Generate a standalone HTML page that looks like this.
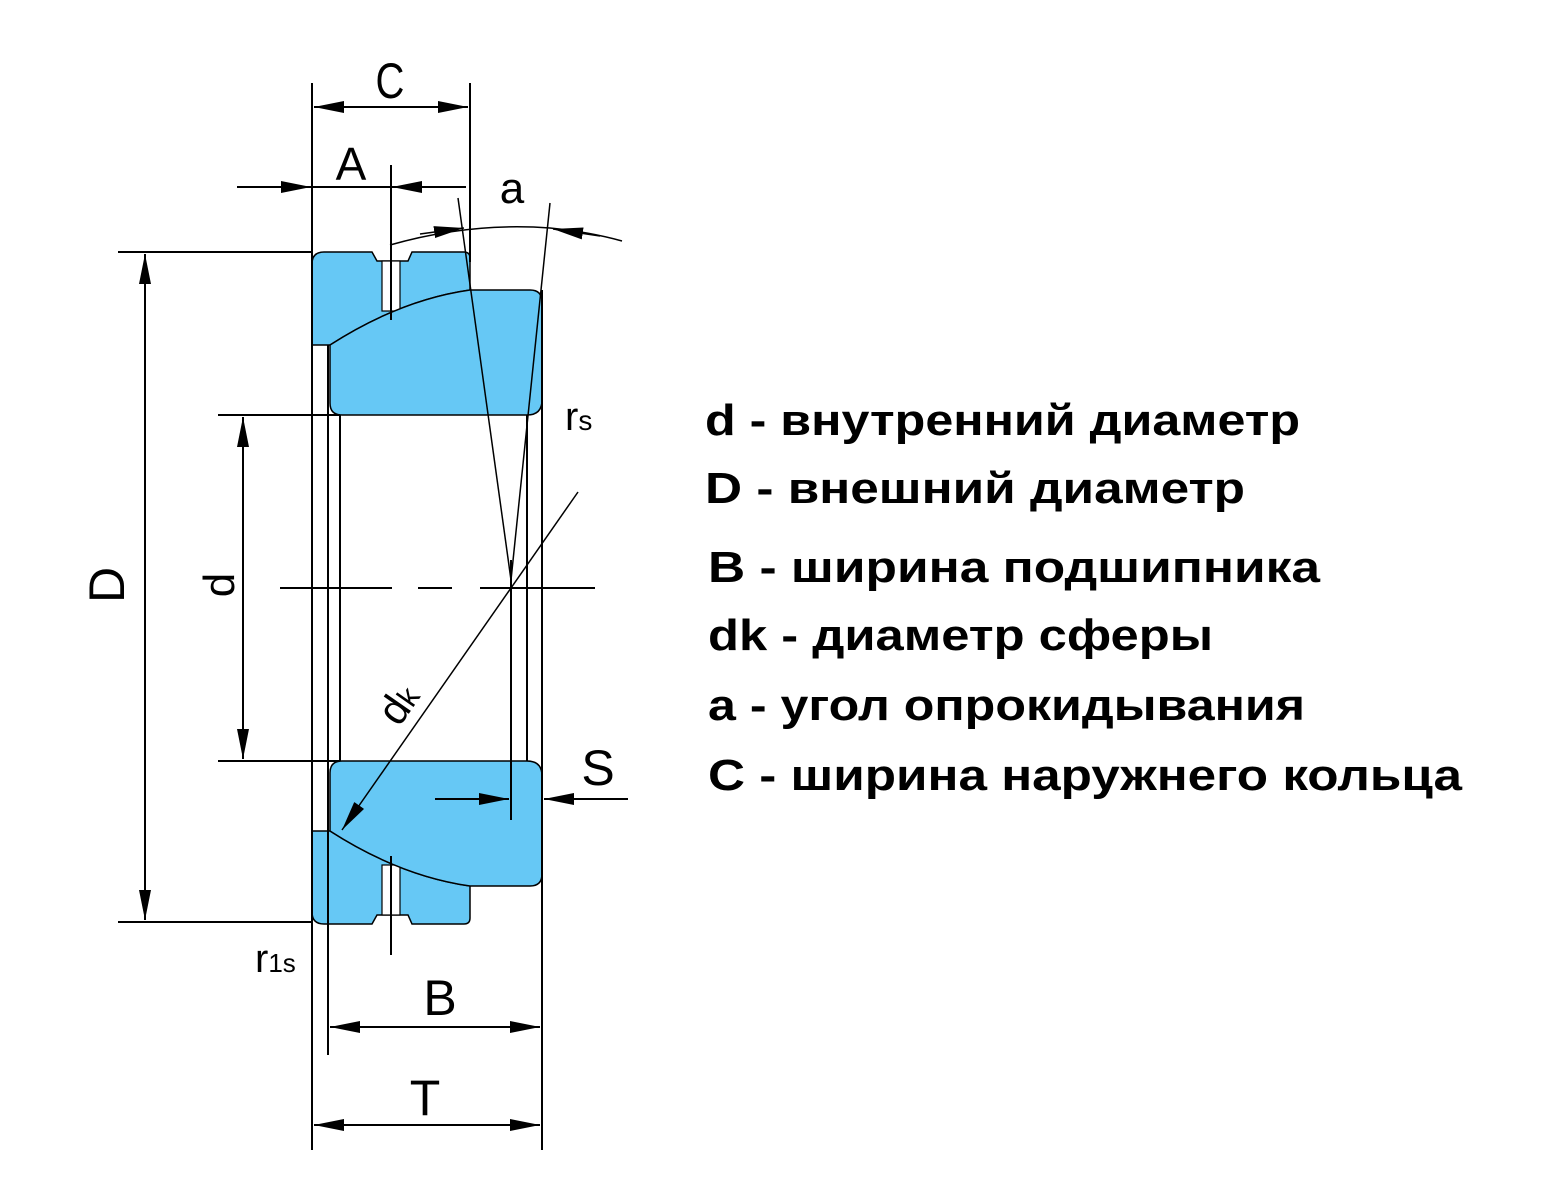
<!DOCTYPE html>
<html><head><meta charset="utf-8"><style>
html,body{margin:0;padding:0;background:#fff;}
svg{display:block;}
</style></head><body>
<svg width="1550" height="1200" viewBox="0 0 1550 1200" xmlns="http://www.w3.org/2000/svg">
<defs>
<marker id="ar" markerUnits="userSpaceOnUse" markerWidth="32" markerHeight="14" refX="30" refY="7" orient="auto">
<path d="M0,1 L30,7 L0,13 Z" fill="#000"/>
</marker>
<g id="half">
<path d="M312,345 L312,264 Q312,252 324,252 L372,252 L377,261 L408,261 L412,252 L464,252 Q470,252 470,258 L470,290 Q400,300 330,345 Z" fill="#66C8F5" stroke="#000" stroke-width="1.5"/>
<rect x="382" y="261" width="18" height="50" fill="#fff" stroke="#000" stroke-width="1.2"/>
<path d="M330,345 Q400,300 470,290 L530,290 Q542,290 542,302 L542,400 Q542,415 527,415 L342,415 Q330,415 330,403 Z" fill="#66C8F5" stroke="#000" stroke-width="1.5"/>
</g>
</defs>
<g stroke="#000" stroke-width="2" fill="none">
<use href="#half"/>
<use href="#half" transform="matrix(1,0,0,-1,0,1176)"/>
<!-- verticals -->
<line x1="312" y1="83" x2="312" y2="1150"/>
<line x1="470" y1="83" x2="470" y2="262"/>
<line x1="328" y1="345" x2="328" y2="1055"/>
<line x1="340" y1="415" x2="340" y2="761"/>
<line x1="511" y1="560" x2="511" y2="820"/>
<line x1="527" y1="415" x2="527" y2="761"/>
<line x1="542" y1="290" x2="542" y2="1150"/>
<line x1="391" y1="165" x2="391" y2="320"/>
<line x1="391" y1="856" x2="391" y2="955"/>
<!-- horizontals -->
<line x1="118" y1="252" x2="312" y2="252"/>
<line x1="118" y1="922" x2="312" y2="922"/>
<line x1="218" y1="415" x2="340" y2="415"/>
<line x1="218" y1="761" x2="340" y2="761"/>
<line x1="280" y1="588" x2="392" y2="588"/>
<line x1="418" y1="588" x2="452" y2="588"/>
<line x1="480" y1="588" x2="595" y2="588"/>
<!-- dims -->
<line x1="145" y1="588" x2="145" y2="254" marker-end="url(#ar)"/>
<line x1="145" y1="588" x2="145" y2="920" marker-end="url(#ar)"/>
<line x1="243" y1="588" x2="243" y2="417" marker-end="url(#ar)"/>
<line x1="243" y1="588" x2="243" y2="759" marker-end="url(#ar)"/>
<line x1="390" y1="107" x2="314" y2="107" marker-end="url(#ar)"/>
<line x1="390" y1="107" x2="468" y2="107" marker-end="url(#ar)"/>
<line x1="237" y1="187" x2="311" y2="187" marker-end="url(#ar)"/>
<line x1="466" y1="187" x2="392" y2="187" marker-end="url(#ar)"/>
<line x1="312" y1="187" x2="392" y2="187"/>
<line x1="435" y1="799" x2="509" y2="799" marker-end="url(#ar)"/>
<line x1="628" y1="799" x2="544" y2="799" marker-end="url(#ar)"/>
<line x1="435" y1="1027" x2="330" y2="1027" marker-end="url(#ar)"/>
<line x1="435" y1="1027" x2="540" y2="1027" marker-end="url(#ar)"/>
<line x1="425" y1="1125" x2="314" y2="1125" marker-end="url(#ar)"/>
<line x1="425" y1="1125" x2="540" y2="1125" marker-end="url(#ar)"/>
<!-- angle -->
<line x1="458" y1="198" x2="511" y2="580" stroke-width="1.5"/>
<line x1="550" y1="203" x2="511" y2="580" stroke-width="1.5"/>
<path d="M390,245 Q470,222 550,228 Q590,232 622,241" stroke-width="1.5"/>
<line x1="420" y1="234" x2="464" y2="228" marker-end="url(#ar)" stroke-width="1.5"/>
<line x1="600" y1="236" x2="553" y2="229" marker-end="url(#ar)" stroke-width="1.5"/>
<!-- dk -->
<line x1="578" y1="492" x2="342" y2="830" marker-end="url(#ar)" stroke-width="1.5"/>
</g>
<g font-family="'Liberation Sans', sans-serif" fill="#000" font-weight="normal">
<text x="390" y="98" font-size="50" text-anchor="middle" transform="scale(0.8,1) translate(97.5,0)">C</text>
<text x="351" y="180" font-size="46" text-anchor="middle">A</text>
<text x="512" y="203" font-size="44" text-anchor="middle">a</text>
<text x="565" y="430" font-size="40">r<tspan font-size="28">s</tspan></text>
<text x="255" y="972" font-size="40">r<tspan font-size="26">1s</tspan></text>
<text x="440" y="1015" font-size="50" text-anchor="middle">B</text>
<text x="425" y="1115" font-size="50" text-anchor="middle">T</text>
<text x="598" y="785" font-size="50" text-anchor="middle">S</text>
<text transform="translate(124,585) rotate(-90)" font-size="50" text-anchor="middle">D</text>
<text transform="translate(234,585) rotate(-90)" font-size="44" text-anchor="middle">d</text>
<text transform="translate(410,712) rotate(-55)" font-size="42" text-anchor="middle">d<tspan font-size="30">k</tspan></text>
</g>
<g font-family="'Liberation Sans', sans-serif" font-weight="bold" font-size="44" fill="#000">
<text x="705" y="435" textLength="595" lengthAdjust="spacingAndGlyphs">d - внутренний диаметр</text>
<text x="705" y="503" textLength="540" lengthAdjust="spacingAndGlyphs">D - внешний диаметр</text>
<text x="708" y="582" textLength="612" lengthAdjust="spacingAndGlyphs">B - ширина подшипника</text>
<text x="708" y="650" textLength="505" lengthAdjust="spacingAndGlyphs">dk - диаметр сферы</text>
<text x="708" y="720" textLength="597" lengthAdjust="spacingAndGlyphs">a - угол опрокидывания</text>
<text x="708" y="790" textLength="754" lengthAdjust="spacingAndGlyphs">C - ширина наружнего кольца</text>
</g>
</svg>
</body></html>
